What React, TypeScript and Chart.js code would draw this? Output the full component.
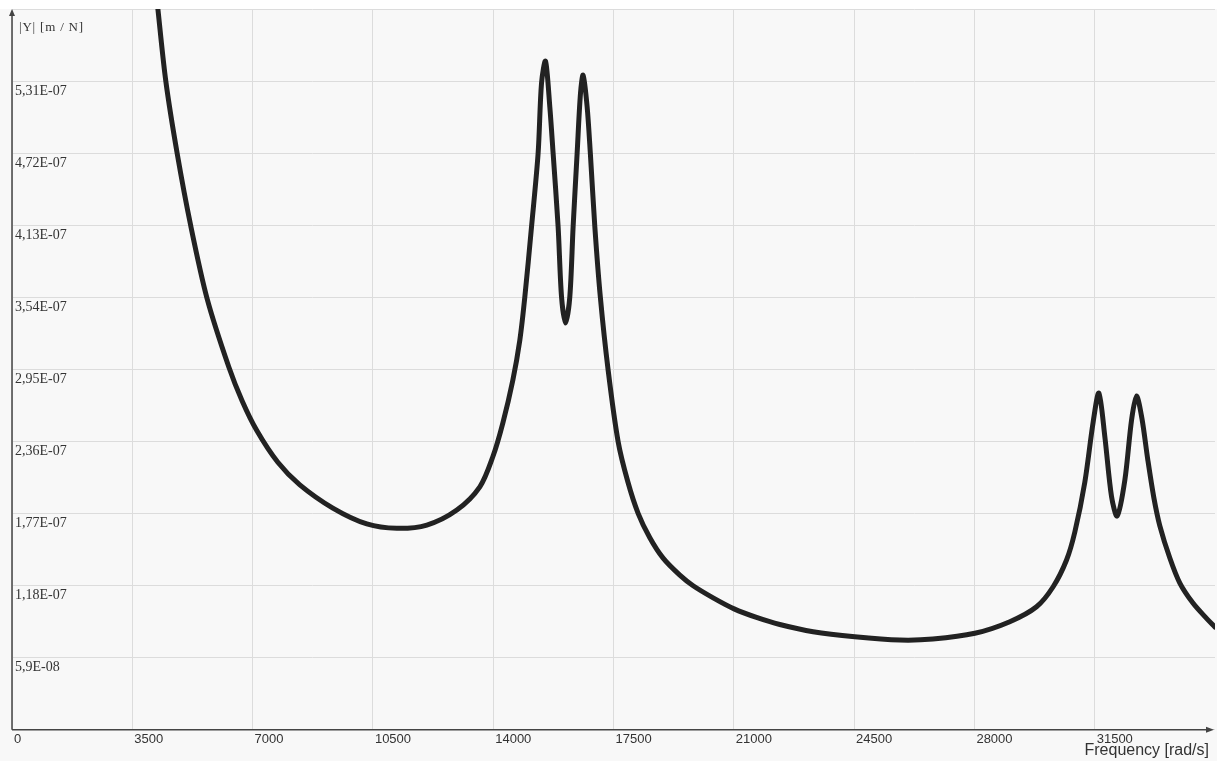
import React, { useEffect, useRef } from "react";
import { Chart, registerables } from "chart.js";

Chart.register(...registerables);

// Frequency (rad/s) of each traced point
const FREQUENCY = [
  3718, 4009, 4242, 4475, 4804, 5202, 5676, 6308, 6700, 7122, 7734, 8374,
  9334, 10323, 11196, 12069, 12942, 13611, 13989, 14280, 14571, 14775,
  14920, 15115, 15307, 15406, 15522, 15647, 15743, 15889, 15988, 16104,
  16229, 16325, 16442, 16540, 16616, 16733, 16826, 16957, 17117, 17344,
  17635, 17917, 18216, 18557, 18944, 19430, 19817, 20399, 21009, 21661,
  22339, 23308, 24521, 25831, 26791, 28013, 29031, 29808, 30291, 30681,
  30922, 31213, 31455, 31621, 31795, 31990, 32153, 32377, 32572, 32717,
  32872, 33046, 33221, 33395, 33686, 33977, 34364, 34754, 34996,
];

// |Y| magnitude (m/N) at each frequency
const MAGNITUDE = [
  7.363e-7, 6.529e-7, 5.907e-7, 5.309e-7, 4.72e-7, 4.123e-7, 3.53e-7,
  2.97e-7, 2.69e-7, 2.45e-7, 2.19e-7, 2.005e-7, 1.815e-7, 1.685e-7,
  1.649e-7, 1.676e-7, 1.799e-7, 1.989e-7, 2.235e-7, 2.511e-7, 2.862e-7,
  3.19e-7, 3.542e-7, 4.117e-7, 4.72e-7, 5.293e-7, 5.473e-7, 5.099e-7,
  4.72e-7, 4.117e-7, 3.544e-7, 3.329e-7, 3.544e-7, 4.117e-7, 4.72e-7,
  5.211e-7, 5.358e-7, 5.099e-7, 4.72e-7, 4.117e-7, 3.542e-7, 2.944e-7,
  2.358e-7, 2.03e-7, 1.772e-7, 1.572e-7, 1.405e-7, 1.266e-7, 1.179e-7,
  1.08e-7, 9.9e-8, 9.2e-8, 8.62e-8, 8.03e-8, 7.62e-8, 7.35e-8, 7.43e-8,
  7.9e-8, 8.85e-8, 1.007e-7, 1.171e-7, 1.39e-7, 1.619e-7, 2.028e-7,
  2.519e-7, 2.756e-7, 2.399e-7, 1.908e-7, 1.75e-7, 2.044e-7, 2.535e-7,
  2.732e-7, 2.552e-7, 2.208e-7, 1.9e-7, 1.67e-7, 1.406e-7, 1.201e-7,
  1.035e-7, 9.12e-8, 8.41e-8,
];

const X_TICKS = [0, 3500, 7000, 10500, 14000, 17500, 21000, 24500, 28000, 31500];
const X_TICK_LABELS = ["0", "3500", "7000", "10500", "14000", "17500", "21000", "24500", "28000", "31500"];

const Y_TICKS = [0, 5.9e-8, 1.18e-7, 1.77e-7, 2.36e-7, 2.95e-7, 3.54e-7, 4.13e-7, 4.72e-7, 5.31e-7, 5.9e-7];
const Y_TICK_LABELS = ["", "5,9E-08", "1,18E-07", "1,77E-07", "2,36E-07", "2,95E-07", "3,54E-07", "4,13E-07", "4,72E-07", "5,31E-07", ""];

const X_TITLE = "Frequency [rad/s]";
const Y_TITLE = "|Y| [m / N]";

const SERIF = "'Liberation Serif', 'DejaVu Serif', serif";
const SANS = "'Liberation Sans', Arial, sans-serif";

const axesPlugin = {
  id: "axesArrows",
  afterDraw(chart: any) {
    const { ctx, chartArea } = chart;
    const { left, right, top, bottom } = chartArea;
    ctx.save();
    ctx.strokeStyle = "#444";
    ctx.fillStyle = "#444";
    ctx.lineWidth = 1.5;
    ctx.beginPath();
    ctx.moveTo(left, bottom);
    ctx.lineTo(left, top + 4);
    ctx.moveTo(left, bottom);
    ctx.lineTo(right - 4, bottom);
    ctx.stroke();
    ctx.beginPath();
    ctx.moveTo(left, top);
    ctx.lineTo(left - 3, top + 7);
    ctx.lineTo(left + 3, top + 7);
    ctx.closePath();
    ctx.fill();
    ctx.beginPath();
    ctx.moveTo(right - 1, bottom);
    ctx.lineTo(right - 9, bottom - 3);
    ctx.lineTo(right - 9, bottom + 3);
    ctx.closePath();
    ctx.fill();

    ctx.fillStyle = "#333";
    ctx.font = "16px " + SANS;
    ctx.textAlign = "right";
    ctx.textBaseline = "alphabetic";
    ctx.fillText(X_TITLE, right - 6, bottom + 25);

    ctx.font = "13px " + SERIF;
    ctx.textAlign = "left";
    try {
      (ctx as any).letterSpacing = "0.8px";
    } catch (e) {
      /* ignore */
    }
    ctx.fillText(Y_TITLE, left + 7, top + 21.7);
    ctx.restore();
  },
};

export default function App() {
  const canvasRef = useRef<HTMLCanvasElement | null>(null);

  useEffect(() => {
    if (!canvasRef.current) return;
    const points = FREQUENCY.map((f, i) => ({ x: f, y: MAGNITUDE[i] }));
    const chart = new Chart(canvasRef.current, {
      type: "line",
      data: {
        datasets: [
          {
            data: points,
            borderColor: "#222222",
            borderWidth: 5,
            pointRadius: 0,
            fill: false,
            tension: 0.3,
            borderJoinStyle: "round",
            borderCapStyle: "round",
          },
        ],
      },
      options: {
        animation: false,
        responsive: true,
        maintainAspectRatio: false,
        layout: { padding: { left: 12, right: 2, top: 0, bottom: 0 } },
        plugins: {
          legend: { display: false },
          tooltip: { enabled: false },
        },
        scales: {
          x: {
            type: "linear",
            min: 0,
            max: 35000,
            afterBuildTicks: (s: any) => {
              s.ticks = X_TICKS.map((v) => ({ value: v }));
            },
            afterFit: (s: any) => {
              s.height = 31.2;
              s.paddingLeft = 0;
              s.paddingRight = 0;
            },
            border: { display: false },
            grid: { color: "#dcdcdc", lineWidth: 1, drawTicks: false },
            ticks: {
              align: "start",
              labelOffset: 2,
              padding: 1.5,
              autoSkip: false,
              maxRotation: 0,
              color: "#333",
              font: { family: SANS, size: 13 },
              callback: (_v: any, i: number) => X_TICK_LABELS[i],
            },
          },
          y: {
            type: "linear",
            min: 0,
            max: 5.9e-7,
            afterBuildTicks: (s: any) => {
              s.ticks = Y_TICKS.map((v) => ({ value: v }));
            },
            afterFit: (s: any) => {
              s.width = 0;
              s.paddingTop = 0;
              s.paddingBottom = 0;
            },
            border: { display: false },
            grid: { color: "#dcdcdc", lineWidth: 1, drawTicks: false },
            ticks: {
              mirror: true,
              padding: 3,
              labelOffset: 10,
              autoSkip: false,
              color: "#333",
              font: { family: SERIF, size: 14 },
              callback: (_v: any, i: number) => Y_TICK_LABELS[i],
            },
          },
        },
      },
      plugins: [axesPlugin],
    });
    return () => chart.destroy();
  }, []);

  return (
    <div
      style={{
        position: "fixed",
        left: 0,
        top: 0,
        width: 1217,
        height: 761,
        background: "#ffffff",
        overflow: "hidden",
      }}
    >
      <div
        style={{
          position: "absolute",
          left: 0,
          top: 9,
          width: 1217,
          height: 752,
          background: "#f8f8f8",
        }}
      >
        <canvas ref={canvasRef} />
      </div>
    </div>
  );
}
